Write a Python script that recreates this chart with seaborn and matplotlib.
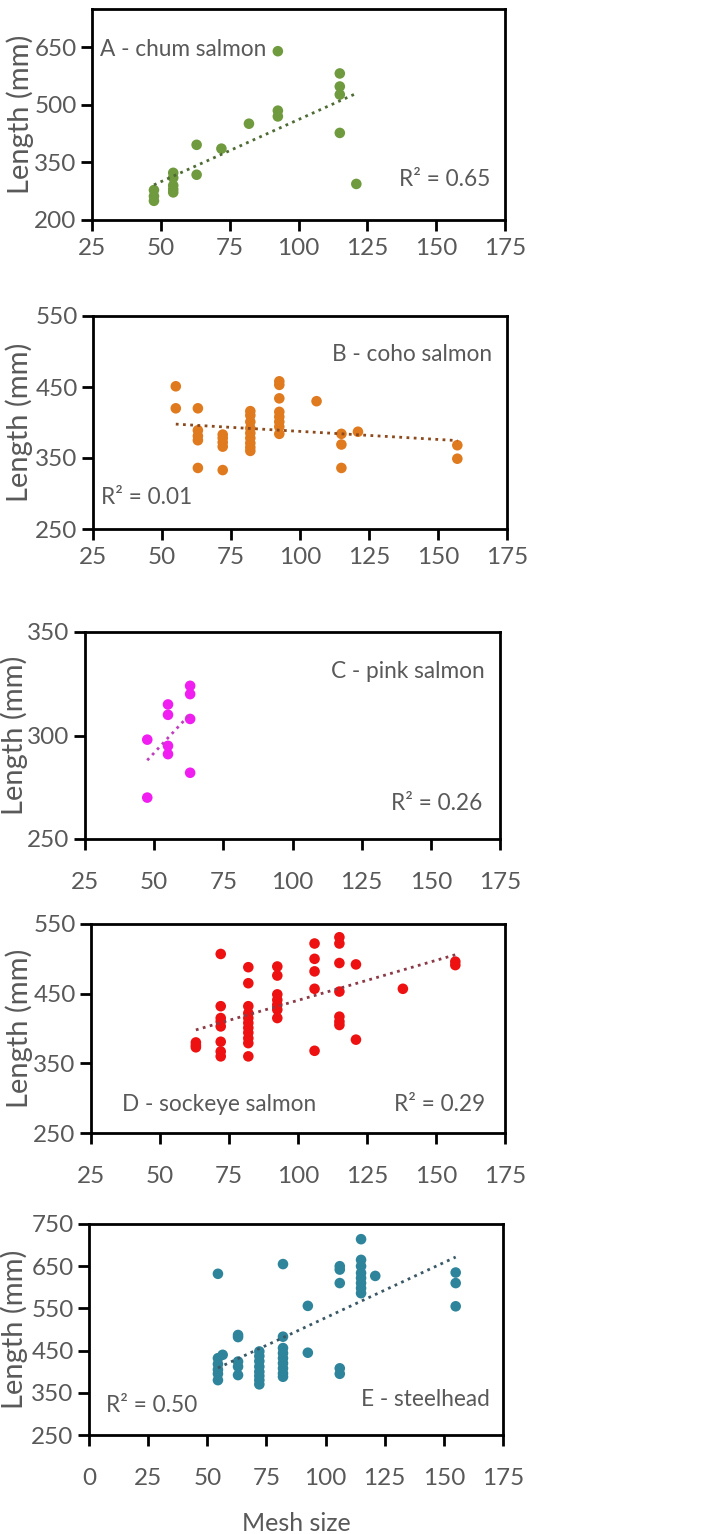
import matplotlib
matplotlib.use("Agg")
import matplotlib.pyplot as plt
import seaborn as sns
import pandas as pd

# ---------------- data ----------------
chum_mesh = [47.5, 47.5, 47.5, 54.5, 54.5, 54.5, 54.5, 54.5, 63, 63, 72, 82,
             92.5, 92.5, 92.5, 115, 115, 115, 115, 121]
chum_len = [278, 262, 250, 323, 310, 290, 280, 272, 396, 318, 386, 451,
            640, 485, 470, 582, 548, 527, 427, 294]

coho_mesh = [55, 55, 63, 63, 63, 63, 63, 72, 72, 72, 72, 72,
             82, 82, 82, 82, 82, 82, 82, 82, 82,
             92.5, 92.5, 92.5, 92.5, 92.5, 92.5, 92.5, 92.5,
             106, 115, 115, 115, 121, 157, 157]
coho_len = [451, 420, 420, 389, 381, 375, 336, 383, 378, 372, 366, 333,
            416, 410, 401, 392, 385, 378, 371, 365, 360,
            458, 453, 434, 415, 408, 401, 394, 384,
            430, 384, 369, 336, 387, 368, 349]

pink_mesh = [47.5, 47.5, 55, 55, 55, 55, 63, 63, 63, 63]
pink_len = [298, 270, 315, 310, 295, 291, 324, 320, 308, 282]

sock_mesh = [63, 63, 63,
             72, 72, 72, 72, 72, 72, 72, 72,
             82, 82, 82, 82, 82, 82, 82, 82, 82, 82, 82,
             92.5, 92.5, 92.5, 92.5, 92.5, 92.5, 92.5,
             106, 106, 106, 106, 106,
             115, 115, 115, 115, 115, 115, 115,
             121, 121, 138, 157, 157]
sock_len = [380, 376, 373,
            507, 432, 415, 410, 403, 381, 367, 360,
            488, 465, 432, 422, 415, 408, 401, 394, 386, 379, 360,
            489, 476, 449, 441, 434, 427, 415,
            522, 500, 482, 457, 368,
            531, 522, 494, 453, 417, 410, 405,
            492, 384, 457, 496, 491]

steel_mesh = [54.5, 54.5, 54.5, 54.5, 54.5, 54.5, 56.5,
              63, 63, 63, 63, 63,
              72, 72, 72, 72, 72, 72, 72, 72,
              82, 82, 82, 82, 82, 82, 82, 82, 82,
              92.5, 92.5,
              106, 106, 106, 106, 106,
              115, 115, 115, 115, 115, 115, 115, 115,
              121, 155, 155, 155]
steel_len = [632, 432, 418, 405, 395, 380, 440,
             487, 482, 424, 412, 392,
             448, 437, 425, 412, 400, 390, 380, 370,
             655, 483, 456, 444, 432, 420, 408, 396, 388,
             556, 445,
             650, 642, 610, 408, 395,
             714, 665, 650, 634, 622, 610, 598, 586,
             627, 635, 610, 555]

species_names = ["A - chum salmon", "B - coho salmon", "C - pink salmon",
                 "D - sockeye salmon", "E - steelhead"]
r2_labels = ["R² = 0.65", "R² = 0.01", "R² = 0.26", "R² = 0.29", "R² = 0.50"]
y_ticks = [[200, 350, 500, 650], [250, 350, 450, 550], [250, 300, 350],
           [250, 350, 450, 550], [250, 350, 450, 550, 650, 750]]
y_limits = [(200, 750), (250, 550), (250, 350), (250, 550), (250, 750)]
x_ticks_main = [25, 50, 75, 100, 125, 150, 175]
x_ticks_e = [0, 25, 50, 75, 100, 125, 150, 175]

point_colors = ["#709A3E", "#E07A1F", "#F01EF0", "#EE1111", "#2E849A"]
line_colors = ["#4F6B35", "#8B4A1E", "#C040C0", "#8B3A48", "#3A5866"]

# ---------------- style ----------------
sns.set_theme(style="white")
plt.rcParams["font.family"] = ["Lato", "DejaVu Sans"]
TXT = "#595959"

W, H = 708, 1534
fig = plt.figure(figsize=(W / 100, H / 100), dpi=100)

# pixel boxes (left, top, right, bottom)
boxes = [(92, 9, 505, 220), (93, 316, 507, 529), (85, 632, 500, 839),
         (91, 924, 505, 1133), (89, 1224, 503, 1435)]

datasets = [(chum_mesh, chum_len), (coho_mesh, coho_len), (pink_mesh, pink_len),
            (sock_mesh, sock_len), (steel_mesh, steel_len)]

# annotation placement (axes fractions) : (x, y, ha)
name_pos = [(0.02, 0.806, "left"), (0.964, 0.817, "right"), (0.964, 0.807, "right"),
            (0.075, 0.134, "left"), (0.969, 0.166, "right")]
r2_pos = [(0.964, 0.19, "right"), (0.02, 0.146, "left"), (0.957, 0.17, "right"),
          (0.952, 0.134, "right"), (0.041, 0.142, "left")]
ylabel_right = [34, 33, 28, 33, 28]
xtick_pad = [5, 5, 16, 16, 16]

for i, ((l, t, r, b), (mx, ln)) in enumerate(zip(boxes, datasets)):
    ax = fig.add_axes([l / W, 1 - b / H, (r - l) / W, (b - t) / H])
    df = pd.DataFrame({"mesh": mx, "length": ln})
    sns.scatterplot(data=df, x="mesh", y="length", ax=ax, color=point_colors[i],
                    s=58, edgecolor="none", linewidth=0, zorder=3)
    sns.regplot(data=df, x="mesh", y="length", ax=ax, scatter=False, ci=None,
                truncate=True,
                line_kws=dict(color=line_colors[i], linestyle=(0, (1, 1.6)),
                              linewidth=2.0, zorder=4))
    if i == 4:
        ax.set_xlim(0, 175)
        ax.set_xticks(x_ticks_e)
    else:
        ax.set_xlim(25, 175)
        ax.set_xticks(x_ticks_main)
    ax.set_ylim(*y_limits[i])
    ax.set_yticks(y_ticks[i])
    for sp in ax.spines.values():
        sp.set_color("black")
        sp.set_linewidth(2.0)
    ax.tick_params(axis="both", direction="out", length=8, width=2,
                   color="black", labelsize=17.5, labelcolor=TXT, pad=3,
                   bottom=True, left=True)
    ax.tick_params(axis="x", pad=xtick_pad[i])
    ax.set_ylabel("Length (mm)", fontsize=21, color=TXT)
    ax.yaxis.set_label_coords((ylabel_right[i] - l) / (r - l), 0.5)
    if i == 4:
        ax.set_xlabel("Mesh size", fontsize=18, color=TXT, labelpad=16)
    else:
        ax.set_xlabel("")
    nx, ny, nha = name_pos[i]
    ax.text(nx, ny, species_names[i], transform=ax.transAxes, ha=nha, va="center",
            fontsize=16.3, color=TXT)
    rx, ry, rha = r2_pos[i]
    ax.text(rx, ry, r2_labels[i], transform=ax.transAxes, ha=rha, va="center",
            fontsize=16.3, color=TXT)

fig.savefig("out.png", dpi=100)
